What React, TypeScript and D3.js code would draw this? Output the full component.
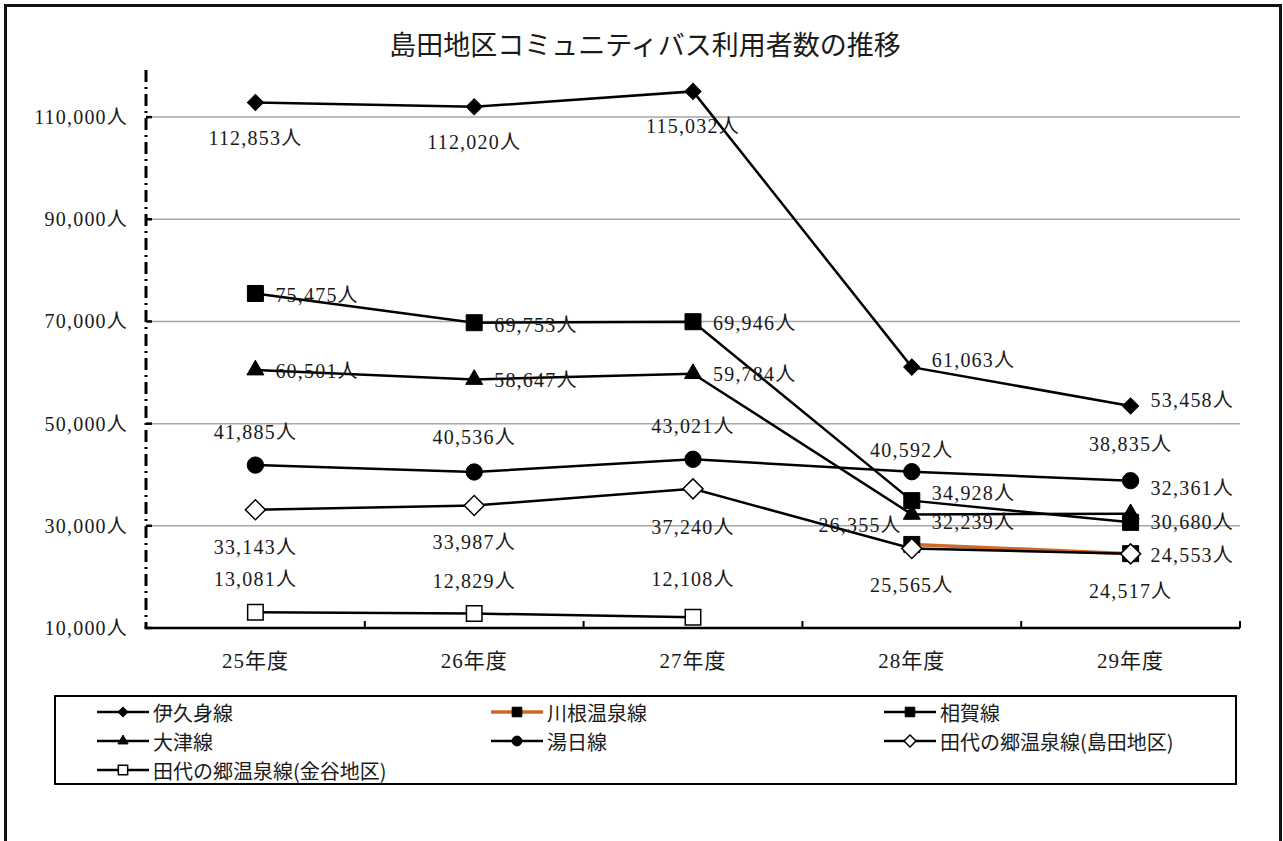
import React from 'react';
import * as d3 from 'd3';

const categories = ['25年度', '26年度', '27年度', '28年度', '29年度'];
const ikumi = [112853, 112020, 115032, 61063, 53458];
const kawane = [null, null, null, 26355, 24553];
const aiga = [75475, 69753, 69946, 34928, 30680];
const otsu = [60501, 58647, 59784, 32239, 32361];
const yuhi = [41885, 40536, 43021, 40592, 38835];
const tashiroShimada = [33143, 33987, 37240, 25565, 24517];
const tashiroKanaya = [13081, 12829, 12108, null, null];
const yTicks = [10000, 30000, 50000, 70000, 90000, 110000];
const seriesNames = ['伊久身線', '川根温泉線', '相賀線', '大津線', '湯日線', '田代の郷温泉線(島田地区)', '田代の郷温泉線(金谷地区)'];

type Mk = 'diamond' | 'square' | 'triangle' | 'circle' | 'odiamond' | 'osquare';
// label placement per point: [dx, dy, anchor]
type LP = [number, number, 'start' | 'middle' | 'end'];
const R = (dy = 0): LP => [20, dy, 'start'];
const B = (dy = 35): LP => [0, dy, 'middle'];
const A = (dy = -34): LP => [0, dy, 'middle'];

const series = [
  { name: seriesNames[0], values: ikumi, color: '#000', marker: 'diamond' as Mk, lp: [B(), B(), B(), R(-7), R(-6)] },
  { name: seriesNames[1], values: kawane, color: '#CC6A2C', marker: 'square' as Mk, lp: [R(), R(), R(), [-10, -19, 'end'] as LP, R(1)] },
  { name: seriesNames[2], values: aiga, color: '#000', marker: 'square' as Mk, lp: [R(2), R(2), R(1), R(-8), R(0)] },
  { name: seriesNames[3], values: otsu, color: '#000', marker: 'triangle' as Mk, lp: [R(1), R(1), R(0), R(8), R(-26)] },
  { name: seriesNames[4], values: yuhi, color: '#000', marker: 'circle' as Mk, lp: [A(-33), A(-35), A(-33), A(-22), A(-37)] },
  { name: seriesNames[5], values: tashiroShimada, color: '#000', marker: 'odiamond' as Mk, lp: [B(37), B(37), B(38), B(37), B(37)] },
  { name: seriesNames[6], values: tashiroKanaya, color: '#000', marker: 'osquare' as Mk, lp: [A(-33), A(-33), A(-38), A(), A()] },
];

const W = 1283, H = 841;
const plotLeft = 146, plotRight = 1240, plotTop = 66, plotBottom = 628;

const x = d3.scaleBand<string>().domain(categories).range([plotLeft, plotRight]);
const y = d3.scaleLinear().domain([10000, 120000]).range([plotBottom, plotTop]);
const cx = (c: string) => (x(c) as number) + x.bandwidth() / 2;

const serif = "'Liberation Serif', 'Noto Sans CJK JP', serif";
const sans = "'Noto Sans CJK JP', sans-serif";
const fmt = d3.format(',');
const numSpacing = 1.2;

function markerPath(m: Mk, scale = 1): { d: string; rot: number; fill: string } {
  switch (m) {
    case 'diamond': return { d: d3.symbol().type(d3.symbolSquare).size(130 * scale * scale)()!, rot: 45, fill: '#000' };
    case 'odiamond': return { d: d3.symbol().type(d3.symbolSquare).size(200 * scale * scale)()!, rot: 45, fill: '#fff' };
    case 'square': return { d: d3.symbol().type(d3.symbolSquare).size(256 * scale * scale)()!, rot: 0, fill: '#000' };
    case 'osquare': return { d: d3.symbol().type(d3.symbolSquare).size(240 * scale * scale)()!, rot: 0, fill: '#fff' };
    case 'triangle': return { d: d3.symbol().type(d3.symbolTriangle).size(125 * scale * scale)()!, rot: 0, fill: '#000' };
    case 'circle': return { d: d3.symbol().type(d3.symbolCircle).size(210 * scale * scale)()!, rot: 0, fill: '#000' };
  }
}

function Marker({ m, px, py, scale = 1 }: { m: Mk; px: number; py: number; scale?: number }) {
  const p = markerPath(m, scale);
  return (
    <path d={p.d} transform={`translate(${px},${py}) rotate(${p.rot})`} fill={p.fill}
      stroke="#000" strokeWidth={m === 'odiamond' || m === 'osquare' ? 1.5 : 1} />
  );
}

const legendCols = [97, 491, 884];
const legendRows = [712, 741, 770];

export default function App() {
  const line = d3.line<[string, number | null]>()
    .defined(d => d[1] !== null)
    .x(d => cx(d[0]))
    .y(d => y(d[1] as number));

  return (
    <svg width={W} height={H} style={{ position: 'absolute', left: 0, top: 0, background: '#fff' }}>
      <rect x={0} y={0} width={W} height={H} fill="#fff" />
      <rect x={5.5} y={5.5} width={1275} height={900} fill="none" stroke="#111" strokeWidth={3} />
      <text x={645} y={46} textAnchor="middle" dominantBaseline="central" fontFamily={serif} fontSize={27} fill="#1a1a1a">
        島田地区コミュニティバス利用者数の推移
      </text>

      {/* gridlines */}
      {yTicks.filter(t => t !== 10000).map(t => (
        <line key={t} x1={plotLeft} x2={plotRight} y1={y(t)} y2={y(t)} stroke="#a6a6a6" strokeWidth={1.5} />
      ))}

      {/* y axis */}
      <line x1={plotLeft} x2={plotLeft} y1={plotTop + 4} y2={plotBottom} stroke="#000" strokeWidth={3} strokeDasharray="12 5 2 5" />
      {yTicks.map(t => (
        <g key={t}>
          <line x1={plotLeft} x2={plotLeft + 6} y1={y(t)} y2={y(t)} stroke="#000" strokeWidth={2.5} />
          <text x={128} y={y(t)} textAnchor="end" dominantBaseline="central" fontFamily={serif} fontSize={20}
            letterSpacing={numSpacing} fill="#1a1a1a">
            {fmt(t)}人
          </text>
        </g>
      ))}

      {/* x axis */}
      <line x1={plotLeft - 1.5} x2={plotRight} y1={plotBottom} y2={plotBottom} stroke="#000" strokeWidth={2.5} />
      {categories.slice(1).map(c => (
        <line key={c} x1={x(c) as number} x2={x(c) as number} y1={plotBottom} y2={plotBottom - 7} stroke="#000" strokeWidth={2} />
      ))}
      <line x1={plotRight} x2={plotRight} y1={plotBottom} y2={plotBottom - 7} stroke="#000" strokeWidth={2} />
      {categories.map(c => (
        <text key={c} x={cx(c)} y={661} textAnchor="middle" dominantBaseline="central" fontFamily={serif} fontSize={21}
          letterSpacing={1} fill="#1a1a1a">{c}</text>
      ))}

      {/* series lines and markers */}
      {series.map(s => (
        <g key={s.name}>
          <path d={line(categories.map((c, i) => [c, s.values[i]] as [string, number | null])) || ''}
            fill="none" stroke={s.color} strokeWidth={s.color === '#000' ? 2.5 : 3.5} />
          {s.values.map((v, i) => v === null ? null : (
            <Marker key={i} m={s.marker} px={cx(categories[i])} py={y(v)} />
          ))}
        </g>
      ))}

      {/* data labels */}
      {series.map(s => (
        <g key={s.name + '-lbl'}>
          {s.values.map((v, i) => {
            if (v === null) return null;
            const [dx, dy, anchor] = s.lp[i] as LP;
            return (
              <text key={i} x={cx(categories[i]) + dx} y={y(v) + dy} textAnchor={anchor} dominantBaseline="central"
                fontFamily={serif} fontSize={20} letterSpacing={numSpacing} fill="#1a1a1a">{fmt(v)}人</text>
            );
          })}
        </g>
      ))}

      {/* legend */}
      <rect x={55} y={696} width={1181} height={88} fill="#fff" stroke="#000" strokeWidth={2} />
      {series.map((s, i) => {
        const col = i % 3, row = Math.floor(i / 3);
        const lx = legendCols[col], ly = legendRows[row];
        return (
          <g key={s.name + '-leg'}>
            <line x1={lx} x2={lx + 52} y1={ly} y2={ly} stroke={s.color} strokeWidth={s.color === '#000' ? 2.5 : 3.5} />
            <Marker m={s.marker} px={lx + 26} py={ly} scale={0.6} />
            <text x={lx + 56} y={ly} dominantBaseline="central" fontFamily={sans} fontSize={20} fill="#1a1a1a">{s.name}</text>
          </g>
        );
      })}
    </svg>
  );
}
